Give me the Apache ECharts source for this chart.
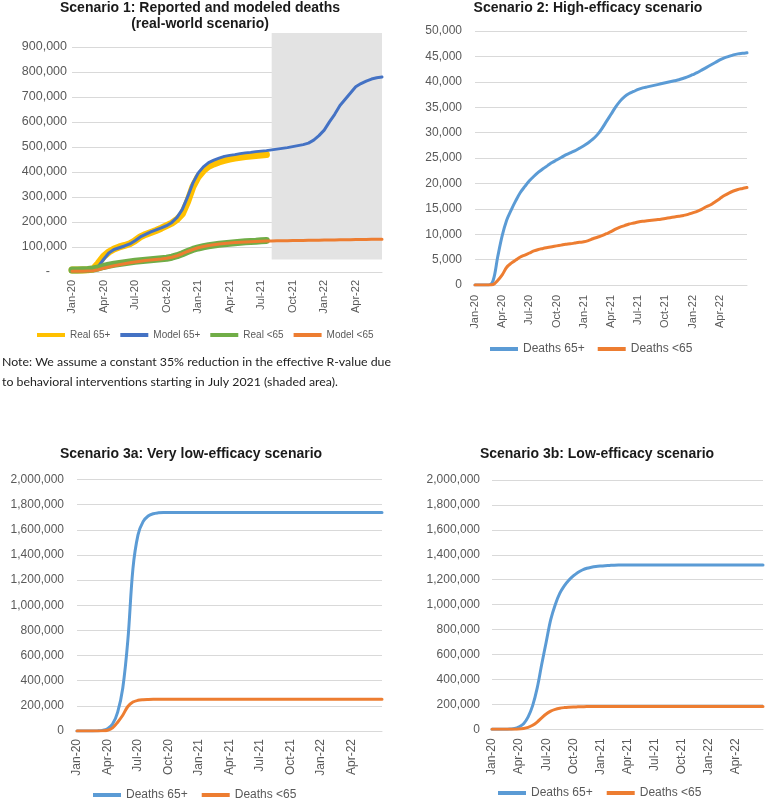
<!DOCTYPE html>
<html><head><meta charset="utf-8">
<script src="https://cdn.jsdelivr.net/npm/echarts@6/dist/echarts.min.js"></script>
<style>html,body{margin:0;padding:0;background:#fff}#c{width:765px;height:801px}</style>
</head><body><div id="c"></div>
<script>
// ---------- categories / tick labels ----------
const monthLabels = ['Jan-20','Feb-20','Mar-20','Apr-20','May-20','Jun-20','Jul-20','Aug-20','Sep-20','Oct-20','Nov-20','Dec-20',
  'Jan-21','Feb-21','Mar-21','Apr-21','May-21','Jun-21','Jul-21','Aug-21','Sep-21','Oct-21','Nov-21','Dec-21',
  'Jan-22','Feb-22','Mar-22','Apr-22','May-22','Jun-22','Jul-22'];
const quarterLabels = ['Jan-20','Apr-20','Jul-20','Oct-20','Jan-21','Apr-21','Jul-21','Oct-21','Jan-22','Apr-22'];
// half-month categories (1st and 15th of each month)
const halfMonths = [];
monthLabels.forEach(m => { halfMonths.push(m); halfMonths.push(m + ' (15th)'); });
const cats1 = halfMonths.slice(0, 60);   // Scenario 1: Jan-20 .. mid Jun-22
const cats2 = halfMonths.slice(0, 61);   // Scenarios 2/3: Jan-20 .. Jul-22

// ---------- Scenario 1 ----------
const s1Real65 = [8000,8000,8000,9000,12000,35000,62000,80000,92000,100000,106000,113000,125000,140000,150000,158000,166000,175000,185000,195000,210000,232000,280000,340000,380000,405000,422000,432000,440000,446000,451000,455000,458000,461000,463000,465000,467000,469000];
const s1Model65 = [5000,5000,5000,6000,7000,22000,50000,76000,90000,97000,104000,112000,125000,140000,150000,160000,168000,176000,185000,198000,218000,250000,300000,355000,395000,420000,437000,447000,455000,462000,466000,469000,473000,476000,478000,481000,483000,485000,488000,491000,494000,497000,501000,505000,509000,515000,527000,545000,567000,600000,630000,665000,690000,715000,740000,753000,763000,771000,776000,779000];
const s1RealU65 = [8000,8000,9000,10000,12000,16000,22000,27000,31000,34000,37000,40000,43000,45000,47000,49000,51000,53000,55000,59000,65000,73000,82000,90000,96000,101000,105000,108000,111000,113000,115000,117000,119000,121000,122000,123000,125000,126000];
const s1ModelU65 = [3000,3000,3000,4000,5000,9000,15000,20000,25000,29000,33000,37000,40000,43000,46000,48000,50000,52000,55000,59000,65000,73000,82000,90000,97000,102000,106000,109000,112000,114000,116000,118000,119000,120000,121000,122000,123000,124000,124000,125000,125000,125000,126000,126000,126000,127000,127000,127000,128000,128000,128000,129000,129000,129000,130000,130000,130000,131000,131000,131000];
const s1ShadeStart = 38;            // category index where the shaded period begins
const s1ShadeRange = [50000, 955000];

// ---------- Scenario 2 ----------
const s2Deaths65 = [0,0,0,0,900,5500,9700,12800,14800,16600,18200,19400,20500,21400,22200,22900,23500,24100,24600,25100,25600,26000,26400,26900,27400,28000,28700,29600,30800,32200,33600,35000,36200,37100,37700,38100,38500,38800,39000,39200,39400,39600,39800,40000,40200,40400,40700,41000,41400,41800,42300,42800,43300,43800,44300,44700,45000,45300,45500,45600,45700];
const s2DeathsU65 = [0,0,0,0,100,900,2000,3500,4300,4900,5500,5900,6300,6700,7000,7200,7400,7550,7700,7850,8000,8100,8250,8400,8500,8750,9100,9400,9700,10100,10500,11000,11400,11700,12000,12200,12400,12550,12650,12750,12850,12950,13100,13250,13400,13550,13700,13900,14200,14500,14900,15400,15800,16400,17000,17600,18100,18500,18800,19000,19200];

// ---------- Scenario 3a ----------
const s3aDeaths65 = [0,0,0,0,1000,5000,18000,55000,150000,340000,720000,1290000,1560000,1665000,1710000,1728000,1735000,
  1738000,1738000,1738000,1738000,1738000,1738000,1738000,1738000,1738000,1738000,1738000,1738000,1738000,1738000,1738000,
  1738000,1738000,1738000,1738000,1738000,1738000,1738000,1738000,1738000,1738000,1738000,1738000,1738000,1738000,1738000,
  1738000,1738000,1738000,1738000,1738000,1738000,1738000,1738000,1738000,1738000,1738000,1738000,1738000,1738000];
const s3aDeathsU65 = [0,0,0,0,0,1000,6000,25000,70000,125000,195000,230000,244000,249000,251000,
  252000,252000,252000,252000,252000,252000,252000,252000,252000,252000,252000,252000,252000,252000,252000,252000,
  252000,252000,252000,252000,252000,252000,252000,252000,252000,252000,252000,252000,252000,252000,252000,252000,
  252000,252000,252000,252000,252000,252000,252000,252000,252000,252000,252000,252000,252000,252000];

// ---------- Scenario 3b ----------
const s3bDeaths65 = [0,0,0,0,2000,6000,20000,45000,100000,190000,330000,520000,700000,880000,1000000,1090000,1150000,1195000,1230000,1258000,1278000,1292000,1300000,1306000,1310000,1313000,1315000,1317000,
  1318000,1318000,1318000,1318000,1318000,1318000,1318000,1318000,1318000,1318000,1318000,1318000,1318000,1318000,1318000,
  1318000,1318000,1318000,1318000,1318000,1318000,1318000,1318000,1318000,1318000,1318000,1318000,1318000,1318000,1318000,1318000,1318000,1318000];
const s3bDeathsU65 = [0,0,0,0,0,0,2000,7000,16000,32000,58000,92000,123000,146000,160000,169000,174000,177000,179000,180000,181000,
  182000,182000,182000,182000,182000,182000,182000,182000,182000,182000,182000,182000,182000,182000,182000,182000,182000,182000,182000,182000,
  182000,182000,182000,182000,182000,182000,182000,182000,182000,182000,182000,182000,182000,182000,182000,182000,182000,182000,182000,182000];

// ---------- text ----------
const titles = ['Scenario 1: Reported and modeled deaths\n(real-world scenario)', 'Scenario 2: High-efficacy scenario',
  'Scenario 3a: Very low-efficacy scenario', 'Scenario 3b: Low-efficacy scenario'];
const noteLines = ['Note: We assume a constant 35% reduction in the effective R-value due',
  'to behavioral interventions starting in July 2021 (shaded area).'];

// ---------- styling helpers ----------
const FONT = 'Liberation Sans';
const GREY = '#595959';
const GRID = '#D9D9D9';
const fmtNum = v => v.toLocaleString('en-US');

function xAx(gridIndex, data, fontSize, margin) {
  return {type: 'category', gridIndex, data, boundaryGap: false,
    axisTick: {show: false}, axisLine: {lineStyle: {color: GRID, width: 1}},
    axisLabel: {interval: (i, v) => quarterLabels.indexOf(v) >= 0, rotate: 90, fontSize, margin, color: GREY, fontFamily: FONT},
    splitLine: {show: false}};
}
function yAx(gridIndex, max, interval, fontSize, margin, dashZero) {
  return {type: 'value', gridIndex, min: 0, max, interval,
    axisLine: {show: false}, axisTick: {show: false},
    axisLabel: {fontSize, margin, color: GREY, fontFamily: FONT, showMaxLabel: !dashZero,
      formatter: v => v === 0 ? (dashZero ? '{z|-}' : '0') : fmtNum(v),
      rich: {z: {padding: [0, 17, 0, 0], fontSize, color: GREY, fontFamily: FONT}}},
    splitLine: {lineStyle: {color: GRID, width: 1}, showMaxLine: !dashZero}};
}
function line(name, xi, data, color, width, smooth) {
  return {name, type: 'line', xAxisIndex: xi, yAxisIndex: xi, data, symbol: 'none', smooth: smooth || false,
    lineStyle: {color, width, cap: 'round', join: 'round'}, itemStyle: {color}};
}
function legend(names, left, top, fontSize, gap) {
  return {data: names, left, top, padding: 0, icon: 'rect', itemWidth: 28, itemHeight: 4, itemGap: gap,
    textStyle: {fontSize, color: GREY, fontFamily: FONT}};
}
function title(text, left, top) {
  return {text, left, top, padding: 0, textAlign: 'center',
    textStyle: {fontSize: 14, fontWeight: 'bold', color: '#1a1a1a', fontFamily: FONT, lineHeight: 16}};
}

// note text scaled to the reference line width
const NOTE_FONT = '12px Lato';
const mctx = document.createElement('canvas').getContext('2d');
mctx.font = NOTE_FONT;
const noteScale = 389 / mctx.measureText(noteLines[0]).width;

const real65 = line('Real 65+', 0, s1Real65, '#FFC000', 7);
real65.markArea = {silent: true, itemStyle: {color: '#E3E3E3'},
  data: [[{xAxis: cats1[s1ShadeStart], yAxis: s1ShadeRange[0]}, {xAxis: cats1[cats1.length - 1], yAxis: s1ShadeRange[1]}]]};

const option = {
  animation: false,
  backgroundColor: '#fff',
  title: [title(titles[0], 200, 0), title(titles[1], 588, 0), title(titles[2], 191, 446.5), title(titles[3], 597, 446.5)],
  grid: [
    {left: 72, right: 383, top: 33, bottom: 529},
    {left: 475, right: 18, top: 31, bottom: 516},
    {left: 77, right: 383, top: 479.5, bottom: 70},
    {left: 492, right: 2, top: 480, bottom: 71.7}
  ],
  xAxis: [xAx(0, cats1, 11, 8), xAx(1, cats2, 11, 10), xAx(2, cats2, 12, 8), xAx(3, cats2, 12, 9)],
  yAxis: [yAx(0, 955000, 100000, 12.5, 5, true), yAx(1, 50000, 5000, 12, 13, false),
          yAx(2, 2000000, 200000, 12, 13, false), yAx(3, 2000000, 200000, 12, 12, false)],
  legend: [
    legend(['Real 65+', 'Model 65+', 'Real <65', 'Model <65'], 37, 330, 10, 10),
    legend(['Deaths 65+', 'Deaths <65'], 490, 343, 12, 13),
    Object.assign(legend(['Deaths 65+', 'Deaths <65'], 93, 789, 12, 14)),
    Object.assign(legend(['Deaths 65+', 'Deaths <65'], 498, 787, 12, 14))
  ],
  graphic: [{type: 'text', x: 2, y: 352, scaleX: noteScale, silent: true,
    style: {text: noteLines.join('\n'), font: NOTE_FONT, fill: '#222', lineHeight: 20, verticalAlign: 'top', align: 'left'}}],
  series: [
    real65,
    line('Model 65+', 0, s1Model65, '#4472C4', 3),
    line('Real <65', 0, s1RealU65, '#70AD47', 7),
    line('Model <65', 0, s1ModelU65, '#ED7D31', 3),
    line('Deaths 65+', 1, s2Deaths65, '#5B9BD5', 3, 0.35),
    line('Deaths <65', 1, s2DeathsU65, '#ED7D31', 3, 0.35),
    line('Deaths 65+', 2, s3aDeaths65, '#5B9BD5', 3, 0.35),
    line('Deaths <65', 2, s3aDeathsU65, '#ED7D31', 3, 0.35),
    line('Deaths 65+', 3, s3bDeaths65, '#5B9BD5', 3, 0.35),
    line('Deaths <65', 3, s3bDeathsU65, '#ED7D31', 3, 0.35)
  ]
};
const chart = echarts.init(document.getElementById('c'), null, {renderer: 'canvas'});
chart.setOption(option);
</script></body></html>
